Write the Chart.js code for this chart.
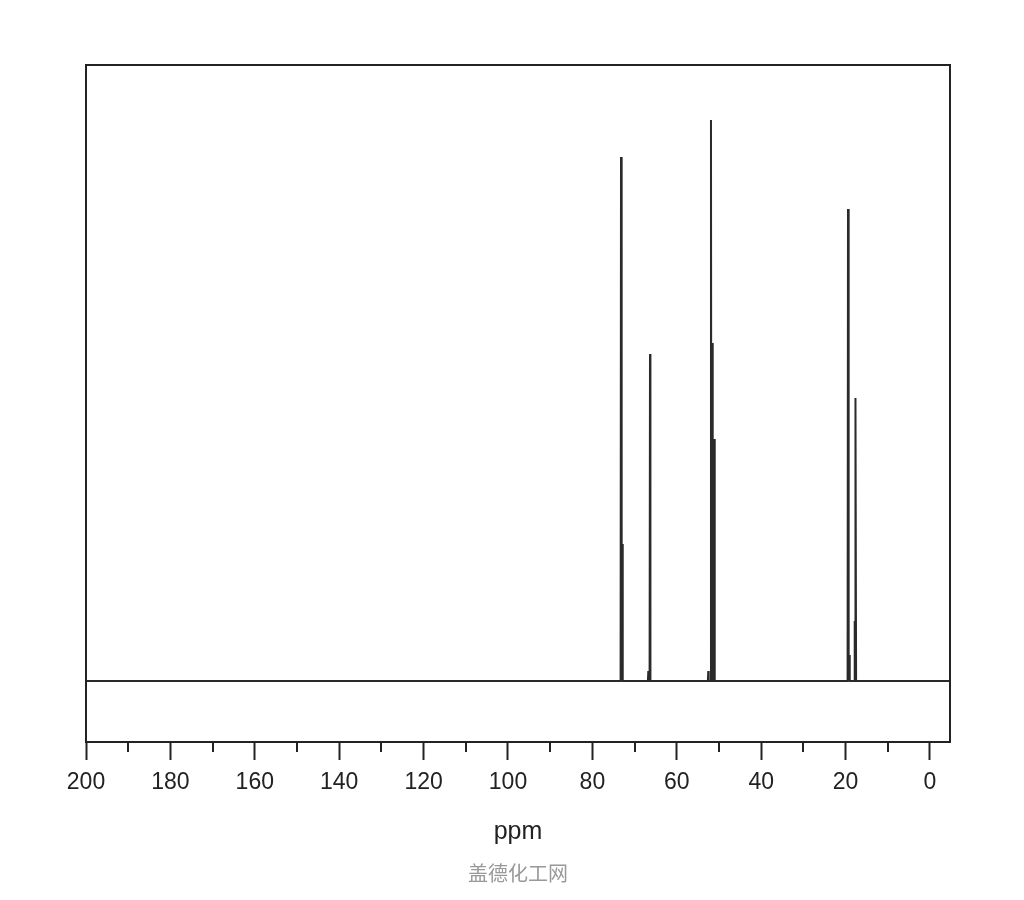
<!DOCTYPE html>
<html>
<head>
<meta charset="utf-8">
<script src="https://cdn.jsdelivr.net/npm/chart.js@4"></script>
<style>
  html, body { margin: 0; padding: 0; background: #fff; }
  #wrap { width: 1024px; height: 900px; }
</style>
</head>
<body>
<div id="wrap"><canvas id="myChart" width="1024" height="900"></canvas></div>
<script>
// Peak list (ppm, height in arbitrary units, baseline = 0)
const peakPpm    = [73.22, 72.91, 66.75, 66.35, 52.54, 51.90, 51.59, 51.11, 19.43, 19.12, 17.84, 17.61];
const peakHeight = [524,   137,   10,    327,   10,    561,   338,   242,   472,   26,    60,    283];

const xMin = -4.74;
const xMax = 200;
const yMin = -61;
const yMax = 616;
const majorTicks = [200, 180, 160, 140, 120, 100, 80, 60, 40, 20, 0];
const minorTicks = [190, 170, 150, 130, 110, 90, 70, 50, 30, 10];

const halfWidth = 0.1; // foot of each line, ppm

// Build the spectrum trace from the peak list
let spectrum = [{ x: xMax, y: 0 }];
peakPpm.forEach((p, i) => {
  spectrum.push({ x: p + halfWidth, y: 0 });
  spectrum.push({ x: p, y: peakHeight[i] });
  spectrum.push({ x: p - halfWidth, y: 0 });
});
spectrum.push({ x: xMin, y: 0 });

// frame around the plot + short minor ticks
const framePlugin = {
  id: 'frame',
  afterDraw(chart) {
    const { ctx, chartArea } = chart;
    const xs = chart.scales.x;
    ctx.save();
    ctx.strokeStyle = '#222';
    ctx.lineWidth = 2;
    ctx.strokeRect(chartArea.left, chartArea.top, chartArea.right - chartArea.left, chartArea.bottom - chartArea.top);
    ctx.beginPath();
    minorTicks.forEach(v => {
      const px = Math.round(xs.getPixelForValue(v));
      ctx.moveTo(px, chartArea.bottom);
      ctx.lineTo(px, chartArea.bottom + 10);
    });
    ctx.stroke();
    ctx.restore();
  }
};

const ctx = document.getElementById('myChart').getContext('2d');

new Chart(ctx, {
  type: 'line',
  data: {
    datasets: [
      {
        label: '13C NMR',
        data: spectrum,
        borderColor: '#2a2a2a',
        borderWidth: 2,
        pointRadius: 0,
        tension: 0,
        fill: false
      }
    ]
  },
  options: {
    responsive: false,
    animation: false,
    layout: { padding: { left: 86, right: 74, top: 65, bottom: 0 } },
    plugins: {
      legend: { display: false },
      tooltip: { enabled: false },
      title: {
        display: true,
        position: 'bottom',
        text: '盖德化工网',
        color: '#999',
        font: { family: '"Noto Sans CJK SC"', size: 20, weight: 'normal' },
        padding: { top: 0, bottom: 15 }
      }
    },
    scales: {
      x: {
        type: 'linear',
        reverse: true,
        min: xMin,
        max: xMax,
        afterFit: s => { s.height = 119; },
        afterBuildTicks: s => { s.ticks = majorTicks.map(v => ({ value: v })); },
        ticks: {
          includeBounds: false,
          stepSize: 20,
          autoSkip: false,
          maxRotation: 0,
          padding: 9,
          color: '#222',
          font: { family: '"Liberation Sans", Arial', size: 23 }
        },
        grid: {
          drawOnChartArea: false,
          drawTicks: true,
          tickLength: 18,
          tickWidth: 2,
          tickColor: '#222'
        },
        border: { display: true, color: '#222', width: 2 },
        title: {
          display: true,
          text: 'ppm',
          color: '#222',
          font: { family: '"Liberation Sans", Arial', size: 25 },
          padding: { top: 0, bottom: 14 }
        }
      },
      y: {
        display: false,
        min: yMin,
        max: yMax
      }
    }
  },
  plugins: [framePlugin]
});
</script>
</body>
</html>
